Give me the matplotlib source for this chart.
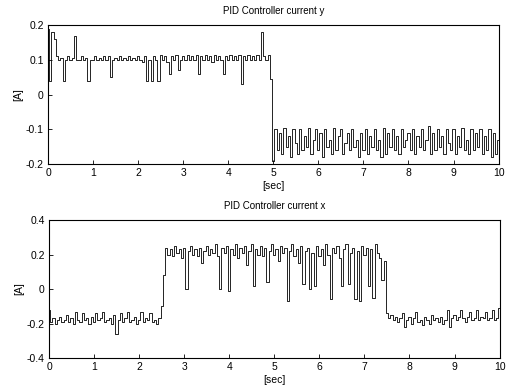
import numpy as np
import matplotlib
matplotlib.use("Agg")
import matplotlib.pyplot as plt

plt.rcParams["font.family"] = ["Liberation Sans", "DejaVu Sans"]
plt.rcParams["font.size"] = 7

DT = 0.05  # sample spacing [sec]

# current y
iy_before = [
    0.19, 0.04, 0.18, 0.16, 0.11, 0.10, 0.105, 0.04, 0.10, 0.11,
    0.10, 0.105, 0.17, 0.10, 0.10, 0.11, 0.10, 0.105, 0.04, 0.10,
    0.10, 0.11, 0.10, 0.105, 0.10, 0.11, 0.10, 0.11, 0.05, 0.10,
    0.105, 0.10, 0.11, 0.10, 0.105, 0.10, 0.11, 0.10, 0.105, 0.10,
    0.11, 0.10, 0.095, 0.11, 0.04, 0.10, 0.04, 0.11, 0.10, 0.04,
    0.115, 0.10, 0.11, 0.095, 0.06, 0.11, 0.10, 0.115, 0.07, 0.10,
    0.11, 0.10, 0.115, 0.10, 0.11, 0.10, 0.115, 0.06, 0.11, 0.10,
    0.115, 0.10, 0.11, 0.095, 0.115, 0.10, 0.11, 0.10, 0.06, 0.11,
    0.10, 0.115, 0.10, 0.11, 0.10, 0.115, 0.03, 0.11, 0.10, 0.115,
    0.10, 0.11, 0.10, 0.115, 0.10, 0.18, 0.11, 0.10, 0.115, 0.045,
]
iy_after = [
    -0.19, -0.10, -0.16, -0.11, -0.17, -0.095, -0.15, -0.12, -0.18, -0.10,
    -0.14, -0.17, -0.10, -0.16, -0.12, -0.15, -0.095, -0.17, -0.13, -0.10,
    -0.16, -0.11, -0.18, -0.10, -0.15, -0.13, -0.17, -0.095, -0.16, -0.12,
    -0.10, -0.17, -0.14, -0.11, -0.16, -0.10, -0.15, -0.13, -0.18, -0.11,
    -0.16, -0.10, -0.17, -0.12, -0.15, -0.10, -0.16, -0.13, -0.18, -0.095,
    -0.17, -0.11, -0.15, -0.10, -0.16, -0.12, -0.17, -0.10, -0.15, -0.13,
    -0.11, -0.16, -0.10, -0.17, -0.12, -0.15, -0.10, -0.16, -0.13, -0.09,
    -0.17, -0.11, -0.16, -0.10, -0.15, -0.12, -0.17, -0.10, -0.14, -0.16,
    -0.10, -0.17, -0.12, -0.15, -0.095, -0.16, -0.13, -0.17, -0.10, -0.16,
    -0.11, -0.15, -0.10, -0.17, -0.12, -0.16, -0.10, -0.18, -0.11, -0.17,
    -0.13,
]

# current x
ix_low1 = [
    -0.12, -0.19, -0.17, -0.20, -0.18, -0.16, -0.19, -0.18, -0.15, -0.19,
    -0.17, -0.20, -0.13, -0.18, -0.19, -0.14, -0.18, -0.17, -0.20, -0.16,
    -0.19, -0.14, -0.18, -0.17, -0.13, -0.19, -0.18, -0.17, -0.20, -0.15,
    -0.26, -0.18, -0.14, -0.19, -0.17, -0.13, -0.19, -0.18, -0.16, -0.20,
    -0.18, -0.13, -0.19, -0.17, -0.18, -0.14, -0.19, -0.18, -0.20, -0.17,
    -0.10,
]
ix_high = [
    0.08, 0.24, 0.20, 0.23, 0.19, 0.25, 0.21, 0.23, 0.18, 0.24,
    0.00, 0.22, 0.25, 0.20, 0.23, 0.19, 0.24, 0.15, 0.22, 0.25,
    0.20, 0.23, 0.21, 0.26, 0.19, 0.00, 0.24, 0.21, 0.25, -0.01,
    0.23, 0.20, 0.26, 0.18, 0.24, 0.21, 0.25, 0.14, 0.22, 0.26,
    0.02, 0.23, 0.20, 0.25, 0.19, 0.24, 0.04, 0.22, 0.26, 0.20,
    0.23, 0.16, 0.25, 0.21, 0.24, -0.07, 0.22, 0.26, 0.19, 0.23,
    0.15, 0.25, 0.03, 0.22, 0.24, 0.00, 0.21, 0.02, 0.25, 0.19,
    0.23, 0.14, 0.26, 0.20, -0.06, 0.24, 0.21, 0.25, 0.18, 0.02,
    0.23, 0.26, 0.03, 0.21, 0.24, -0.06, 0.22, -0.07, 0.25, 0.20,
    0.24, 0.02, 0.23, -0.05, 0.26, 0.21, 0.18, 0.05, 0.16,
]
ix_low2 = [
    -0.14,
    -0.17, -0.15, -0.18, -0.16, -0.19, -0.17, -0.14, -0.22, -0.18, -0.16,
    -0.20, -0.17, -0.13, -0.19, -0.18, -0.21, -0.16, -0.18, -0.20, -0.15,
    -0.18, -0.17, -0.19, -0.16, -0.20, -0.18, -0.12, -0.22, -0.17, -0.15,
    -0.18, -0.16, -0.12, -0.17, -0.19, -0.16, -0.13, -0.18, -0.17, -0.12,
    -0.18, -0.16, -0.17, -0.13, -0.18, -0.17, -0.12, -0.18, -0.17, -0.11,
]

iy = np.array(iy_before + iy_after)
ix = np.array(ix_low1 + ix_high + ix_low2)
t_y = np.arange(len(iy)) * DT
t_x = np.arange(len(ix)) * DT

x_ticks = list(range(0, 11))
y_ticks_top = [-0.2, -0.1, 0, 0.1, 0.2]
y_ticks_bot = [-0.4, -0.2, 0, 0.2, 0.4]

fig = plt.figure(figsize=(5.08, 3.88), dpi=100)
fig.patch.set_facecolor("white")

ax1 = fig.add_axes([0.0945, 0.577, 0.887, 0.358])
ax2 = fig.add_axes([0.0965, 0.077, 0.887, 0.356])

panels = [
    (ax1, t_y, iy, y_ticks_top, "PID Controller current y"),
    (ax2, t_x, ix, y_ticks_bot, "PID Controller current x"),
]

for ax, t, v, yt, title in panels:
    ax.plot(t, v, color="black", linewidth=0.6, drawstyle="steps-mid")
    ax.set_xlim(0, 10)
    ax.set_ylim(yt[0], yt[-1])
    ax.set_xticks(x_ticks)
    ax.set_yticks(yt)
    ax.set_yticklabels([f"{y:g}" for y in yt])
    ax.tick_params(direction="in", length=3, width=0.6, colors="black",
                   labelsize=7.5, pad=3)
    ax.set_title(title, fontsize=7, pad=8)
    ax.set_xlabel("[sec]", fontsize=7.5, labelpad=2)
    ax.set_ylabel("[A]", fontsize=7.5, labelpad=2)
    for spine in ax.spines.values():
        spine.set_linewidth(0.8)
        spine.set_color("black")

fig.savefig("out.png", dpi=100, facecolor="white")
